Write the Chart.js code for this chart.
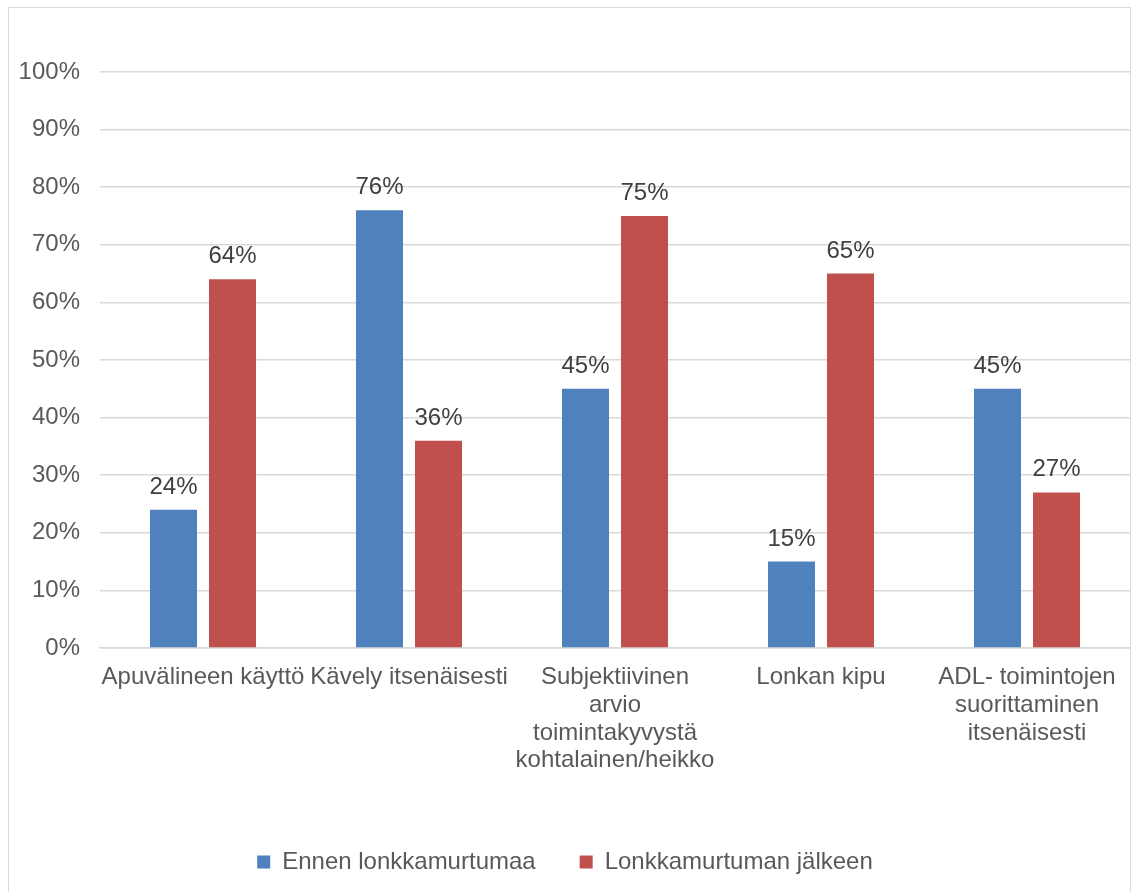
<!DOCTYPE html>
<html>
<head>
<meta charset="utf-8">
<script src="https://cdn.jsdelivr.net/npm/chart.js@4.4.0/dist/chart.umd.min.js"></script>
<style>
  html, body { margin: 0; padding: 0; background: #fff; overflow: hidden; }
  #frame { position: absolute; left: 8px; top: 7px; width: 1123px; height: 900px; border: 1px solid #d9d9d9; box-sizing: border-box; }
  #wrap { position: absolute; left: 0; top: 0; width: 1133px; height: 925px; }
</style>
</head>
<body>
<div id="frame"></div>
<div id="wrap"><canvas id="chart" width="1133" height="925"></canvas></div>
<script>
const categories = [
    'Apuvälineen käyttö',
    'Kävely itsenäisesti',
    ['Subjektiivinen', 'arvio', 'toimintakyvystä', 'kohtalainen/heikko'],
    'Lonkan kipu',
    ['ADL- toimintojen', 'suorittaminen', 'itsenäisesti']
];
const beforeValues = [24, 76, 45, 15, 45];
const afterValues = [64, 36, 75, 65, 27];
const seriesNames = ['Ennen lonkkamurtumaa', 'Lonkkamurtuman jälkeen'];

const FONT = 'Arial, "Liberation Sans", sans-serif';

// draw the value labels above each bar
const barLabels = {
    id: 'barLabels',
    afterDatasetsDraw(chart) {
        const ctx = chart.ctx;
        ctx.save();
        ctx.font = '24px ' + FONT;
        ctx.fillStyle = '#404040';
        ctx.textAlign = 'center';
        ctx.textBaseline = 'alphabetic';
        chart.data.datasets.forEach((ds, i) => {
            chart.getDatasetMeta(i).data.forEach((bar, j) => {
                ctx.fillText(ds.data[j] + '%', bar.x, bar.y - 16);
            });
        });
        ctx.restore();
    }
};

const ctx = document.getElementById('chart');
new Chart(ctx, {
    type: 'bar',
    data: {
        labels: categories,
        datasets: [{
            label: seriesNames[0],
            data: beforeValues,
            backgroundColor: '#4F81BD'
        }, {
            label: seriesNames[1],
            data: afterValues,
            backgroundColor: '#C0504D'
        }]
    },
    options: {
        responsive: false,
        animation: false,
        layout: { padding: { top: 72, right: 3, left: 0, bottom: 41 } },
        datasets: {
            bar: { categoryPercentage: 0.573, barPercentage: 0.797 }
        },
        scales: {
            y: {
                min: 0,
                max: 100,
                ticks: {
                    stepSize: 10,
                    padding: 20,
                    color: '#595959',
                    font: { size: 24, family: FONT },
                    callback: v => v + '%'
                },
                grid: { color: '#d9d9d9', lineWidth: 1.5, drawTicks: false },
                border: { display: false },
                afterFit: s => { s.width = 100; }
            },
            x: {
                ticks: {
                    padding: 16,
                    maxRotation: 0,
                    autoSkip: false,
                    color: '#595959',
                    font: { size: 24, family: FONT, lineHeight: 1.15 }
                },
                grid: { display: false, drawTicks: false },
                border: { color: '#d9d9d9', width: 1.5 },
                afterFit: s => { s.height = 158; }
            }
        },
        plugins: {
            tooltip: { enabled: false },
            legend: {
                position: 'bottom',
                labels: {
                    boxWidth: 13,
                    boxHeight: 13,
                    padding: 44,
                    color: '#595959',
                    font: { size: 24, family: FONT }
                }
            }
        }
    },
    plugins: [barLabels]
});
</script>
</body>
</html>
